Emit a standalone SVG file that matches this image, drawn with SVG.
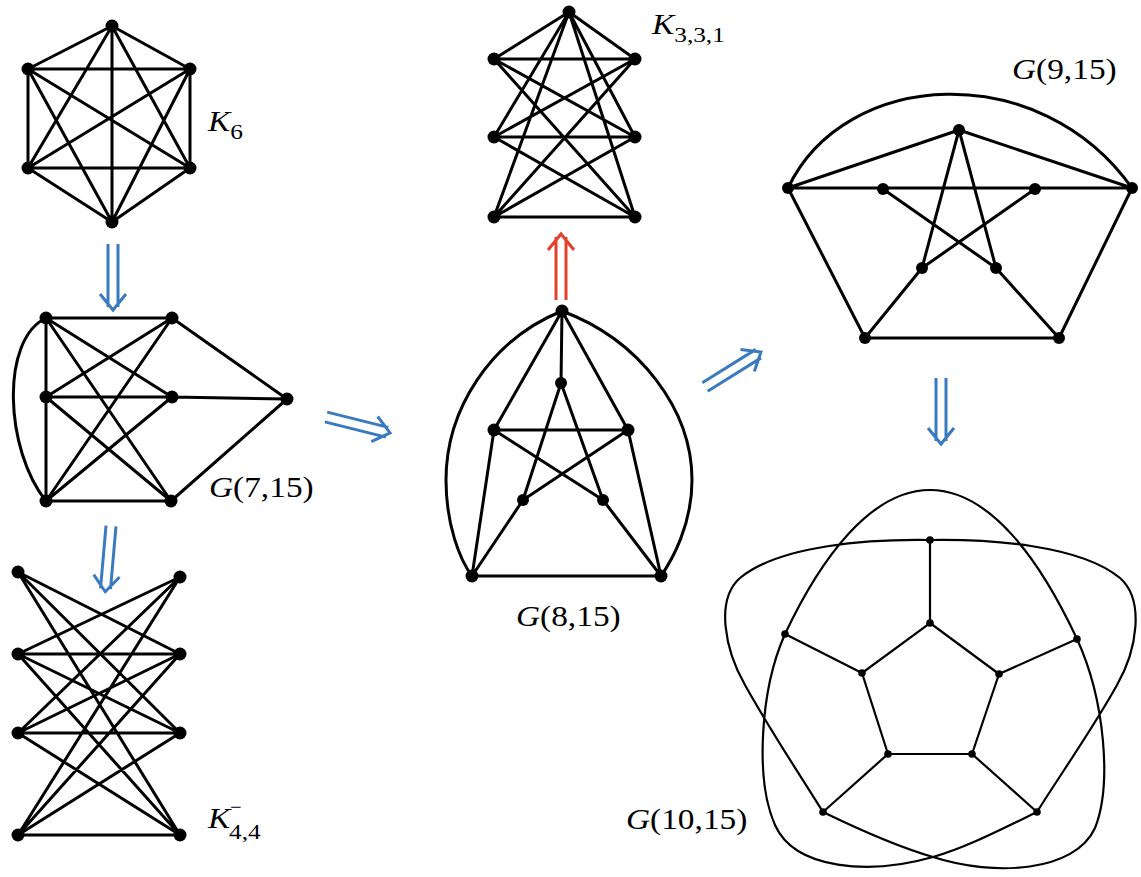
<svg xmlns="http://www.w3.org/2000/svg" xmlns:xlink="http://www.w3.org/1999/xlink" width="1141" height="877" viewBox="0 0 1141 877">
<style>
.e{fill:none;stroke:#000;stroke-width:3;stroke-linecap:round}
.t{fill:none;stroke:#000;stroke-width:2.2}
.n{fill:#000}
.lbl{font-family:"Liberation Serif","Times New Roman",serif;font-size:29px;fill:#000}
.it{font-style:italic}
.sub{font-size:22px}
.sup{font-size:18px}
</style>
<defs>
<g id="da" fill="none" stroke-width="3" stroke-linejoin="miter"><path d="M-5,0V63M5,0V63M-13,50L0,66L13,50"/></g>
</defs>
<rect width="1141" height="877" fill="#fff"/>

<g id="K6">
<path class="e" d="M112,26L28,69M112,26L190,69M112,26L28,168M112,26L190,168M112,26L112,222M28,69L190,69M28,69L28,168M28,69L190,168M28,69L112,222M190,69L28,168M190,69L190,168M190,69L112,222M28,168L190,168M28,168L112,222M190,168L112,222"/>
<g class="n"><circle cx="112" cy="26" r="6.5"/><circle cx="28" cy="69" r="6.5"/><circle cx="190" cy="69" r="6.5"/><circle cx="28" cy="168" r="6.5"/><circle cx="190" cy="168" r="6.5"/><circle cx="112" cy="222" r="6.5"/></g>
<text class="lbl" transform="translate(208,131) scale(1.15,1)"><tspan class="it">K</tspan><tspan class="sub" dy="8">6</tspan></text>
</g>

<g id="G7_15">
<path class="e" d="M46,318L172,318M46,318L46,397M46,397L46,501M46,318L172,397M46,318L171,501M172,318L46,397M172,318L46,501M172,318L287,399M46,397L172,397M46,397L171,501M172,397L46,501M172,397L287,399M46,501L171,501M171,501L287,399M46,318C0,340 5,450 46,501"/>
<g class="n"><circle cx="46" cy="318" r="6.5"/><circle cx="172" cy="318" r="6.5"/><circle cx="46" cy="397" r="6.5"/><circle cx="172" cy="397" r="6.5"/><circle cx="287" cy="399" r="6.5"/><circle cx="46" cy="501" r="6.5"/><circle cx="171" cy="501" r="6.5"/></g>
<text class="lbl" transform="translate(209,497) scale(1.15,1)"><tspan class="it">G</tspan>(7,15)</text>
</g>

<g id="K44minus">
<path class="e" d="M18,572L180,654M18,572L180,733M18,572L180,835M18,654L180,577M18,654L180,654M18,654L180,733M18,654L180,835M18,733L180,577M18,733L180,654M18,733L180,733M18,733L180,835M18,835L180,577M18,835L180,654M18,835L180,733M18,835L180,835"/>
<g class="n"><circle cx="18" cy="572" r="6.5"/><circle cx="18" cy="654" r="6.5"/><circle cx="18" cy="733" r="6.5"/><circle cx="18" cy="835" r="6.5"/><circle cx="180" cy="577" r="6.5"/><circle cx="180" cy="654" r="6.5"/><circle cx="180" cy="733" r="6.5"/><circle cx="180" cy="835" r="6.5"/></g>
<text class="lbl it" transform="translate(208,828) scale(1.15,1)">K</text>
<text class="lbl sub" transform="translate(229,839) scale(1.15,1)">4,4</text>
<text class="lbl sup" transform="translate(230,813) scale(1.15,1)">−</text>
</g>

<g id="K331">
<path class="e" d="M569,12L494,59M569,12L494,137M569,12L494,217M569,12L635,59M569,12L635,137M569,12L635,217M494,59L635,59M494,59L635,137M494,59L635,217M494,137L635,59M494,137L635,137M494,137L635,217M494,217L635,59M494,217L635,137M494,217L635,217"/>
<g class="n"><circle cx="569" cy="12" r="6.5"/><circle cx="494" cy="59" r="6.5"/><circle cx="494" cy="137" r="6.5"/><circle cx="494" cy="217" r="6.5"/><circle cx="635" cy="59" r="6.5"/><circle cx="635" cy="137" r="6.5"/><circle cx="635" cy="217" r="6.5"/></g>
<text class="lbl" transform="translate(652,34) scale(1.15,1)"><tspan class="it">K</tspan><tspan class="sub" dy="8">3,3,1</tspan></text>
</g>

<g id="G8_15">
<path class="e" d="M562,311L561,383M562,311L494,430M562,311L628,430M494,430L628,430M494,430L603,500M628,430L523,500M561,383L523,500M561,383L603,500M494,430L472,576M628,430L661,576M523,500L472,576M603,500L661,576M472,576L661,576M562,311C490,340 446,410 446,480C446,525 460,560 472,576M562,311C640,340 692,410 692,480C692,525 672,560 661,576"/>
<g class="n"><circle cx="562" cy="311" r="6.5"/><circle cx="561" cy="383" r="6"/><circle cx="494" cy="430" r="6.5"/><circle cx="628" cy="430" r="6.5"/><circle cx="523" cy="500" r="6"/><circle cx="603" cy="500" r="6"/><circle cx="472" cy="576" r="6.5"/><circle cx="661" cy="576" r="6.5"/></g>
<text class="lbl" transform="translate(516,626) scale(1.15,1)"><tspan class="it">G</tspan>(8,15)</text>
</g>

<g id="G9_15">
<path class="e" d="M788,188C845,68 1040,58 1132,188M959,130L788,188M959,130L1132,188M788,188L1132,188M959,130L922,268M959,130L996,268M883,189L996,268M1035,189L922,268M788,188L865,338M1132,188L1059,338M922,268L865,338M996,268L1059,338M865,338L1059,338"/>
<g class="n"><circle cx="959" cy="130" r="6"/><circle cx="788" cy="188" r="6"/><circle cx="1132" cy="188" r="6"/><circle cx="883" cy="189" r="6"/><circle cx="1035" cy="189" r="6"/><circle cx="922" cy="268" r="6"/><circle cx="996" cy="268" r="6"/><circle cx="865" cy="338" r="6"/><circle cx="1059" cy="338" r="6"/></g>
<text class="lbl" transform="translate(1012,79) scale(1.15,1)"><tspan class="it">G</tspan>(9,15)</text>
</g>

<g id="G10_15">
<path class="t" d="M930,623L999,674L972,754L888,754L862,673Z M930,540L930,623M1077,639L999,674M1037,812L972,754M823,812L888,754M785,634L862,673"/>
<path class="t" d="M930,540C870,539 780,545 740,578C715,600 725,650 745,685C770,730 800,775 823,812 M930,540C990,539 1080,545 1120,578C1145,600 1137,650 1117,685C1092,730 1060,775 1037,812 M785,634C820,560 870,490 930,490C990,490 1040,560 1077,639 M785,634C760,690 755,780 775,825C795,870 870,875 933,857C965,848 1000,830 1037,812 M1077,639C1105,700 1112,785 1095,828C1075,872 995,877 933,857C895,846 860,830 823,812"/>
<g class="n"><circle cx="930" cy="540" r="3.8"/><circle cx="1077" cy="639" r="3.8"/><circle cx="1037" cy="812" r="3.8"/><circle cx="823" cy="812" r="3.8"/><circle cx="785" cy="634" r="3.8"/><circle cx="930" cy="623" r="3.8"/><circle cx="999" cy="674" r="3.8"/><circle cx="972" cy="754" r="3.8"/><circle cx="888" cy="754" r="3.8"/><circle cx="862" cy="673" r="3.8"/></g>
<text class="lbl" transform="translate(626,829) scale(1.15,1)"><tspan class="it">G</tspan>(10,15)</text>
</g>

<g id="connectors">
<use href="#da" stroke="#3a7bbf" transform="translate(113,244)"/>
<use href="#da" stroke="#3a7bbf" transform="translate(111,526) rotate(5)"/>
<use href="#da" stroke="#3a7bbf" transform="translate(326,417) rotate(-76)"/>
<use href="#da" stroke="#3a7bbf" transform="translate(705,387) rotate(-122)"/>
<use href="#da" stroke="#3a7bbf" transform="translate(941,378)"/>
<use href="#da" stroke="#e2412b" transform="translate(561,300) rotate(180)"/>
</g>
</svg>
